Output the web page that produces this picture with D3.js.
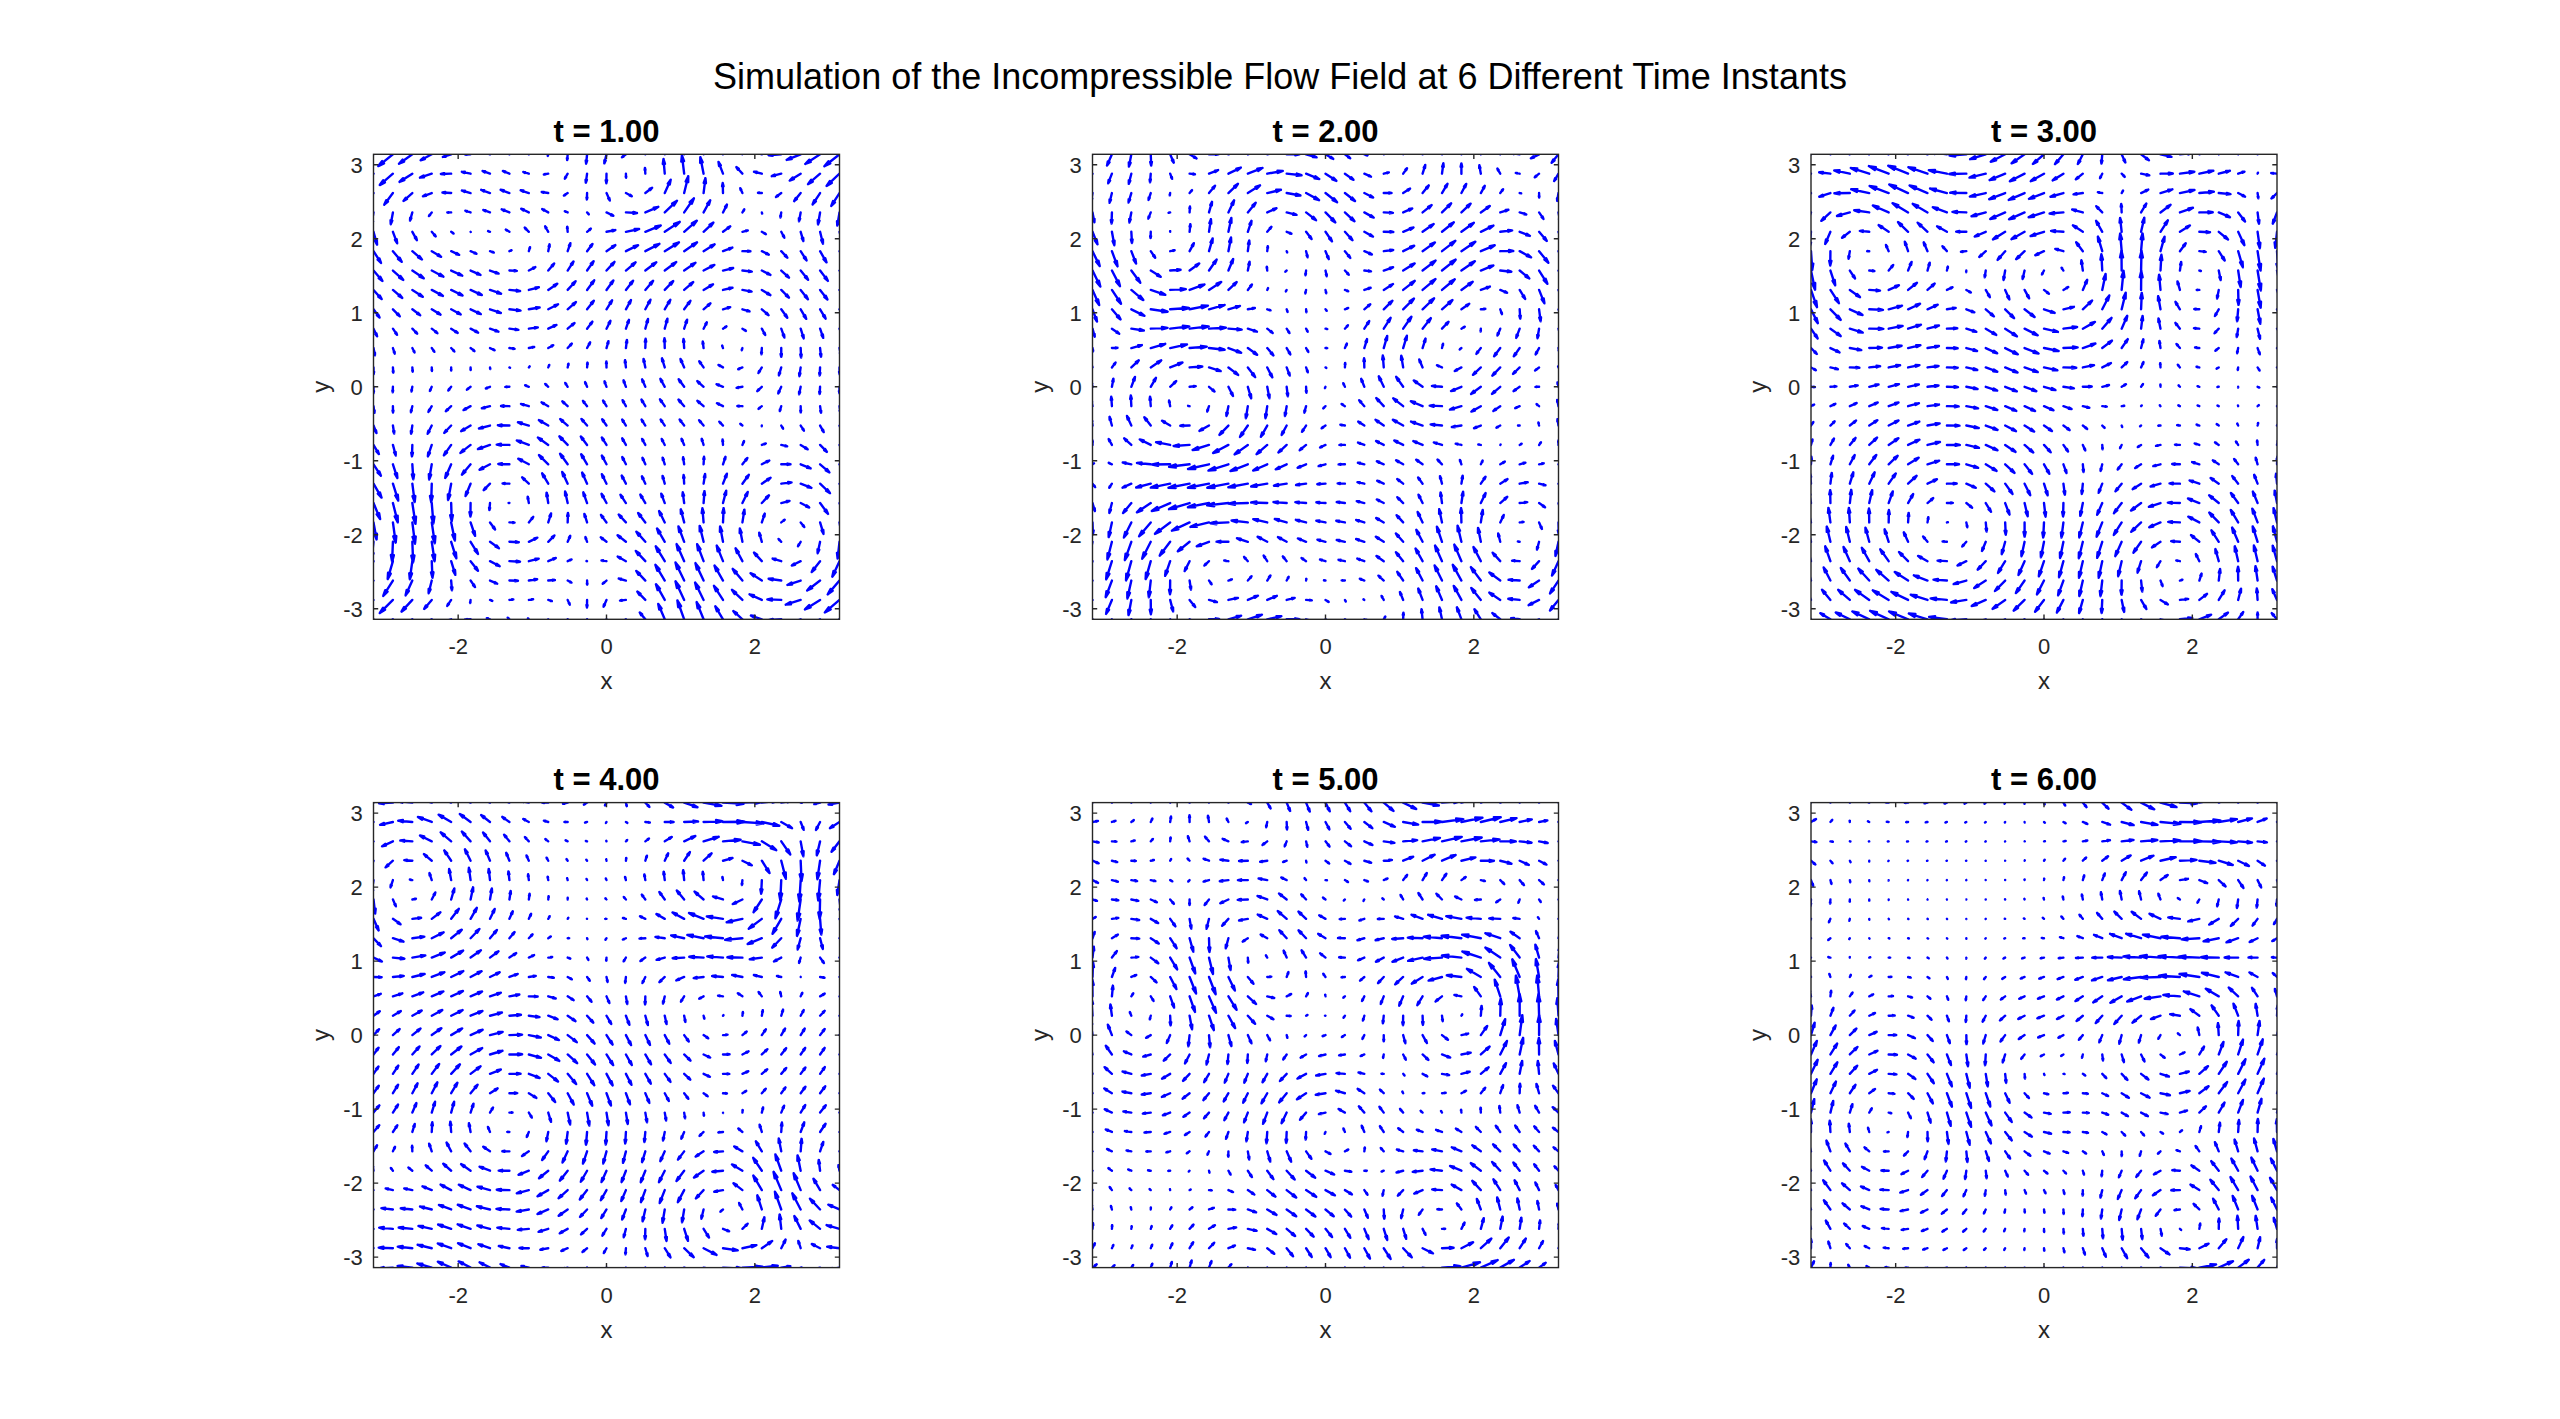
<!DOCTYPE html>
<html>
<head>
<meta charset="utf-8">
<script src="https://cdn.jsdelivr.net/npm/d3@7"></script>
<style>
body { margin: 0; background: #fff; }
text { font-family: "Liberation Sans", Arial, Helvetica, sans-serif; fill: #262626; }
</style>
</head>
<body>
<svg id="chart" width="2560" height="1419"></svg>
<script>
// figure text
var mainTitle = "Simulation of the Incompressible Flow Field at 6 Different Time Instants";
var timeLabels = ["t = 1.00", "t = 2.00", "t = 3.00", "t = 4.00", "t = 5.00", "t = 6.00"];
var xTicks = [-2, 0, 2];
var yTicks = [-3, -2, -1, 0, 1, 2, 3];
var gridN = 25;

// eddies: centre x, centre y, signed strength (+ = counter-clockwise), core radius
var vortexX = [
	[-2.5, -1.1, 0.5, -1.35, 2.5, 0.3, 1.7],
	[-1.8, -1.5, -0.6, 1.5, 2.4, -2.1, 0.6, 2.6],
	[-2.4, 0.2, -1.3, 1.8, 2.1],
	[-2.7, 1.8, 1.7, -1.3, 1.5, 2.95],
	[2.0, 1.6, 1.9, 0.0, -2.6, 0.0, -1.05, -1.1],
	[1.8, 1.9, 1.9, -2.1, -0.3]
];
var vortexY = [
	[2.35, 1.8, 2.7, -1.6, -2.0, -2.6, 0.6],
	[-0.25, -2.4, 2.2, 0.3, 1.3, 1.8, -3.1, -2.1],
	[1.8, 1.5, -1.9, -2.5, 1.6],
	[2.0, 2.1, -2.5, -1.2, 0.4, -2.0],
	[0.4, -2.6, 2.0, -1.3, 0.4, 1.8, 1.0, 3.0],
	[0.0, 1.9, -2.7, -1.2, -0.6]
];
var vortexS = [
	[0.8, 0.8, 1.0, 1.0, -1.0, 0.6, -0.7],
	[-1.0, 0.9, -0.6, -0.9, -0.8, 0.7, 0.6, -0.9],
	[1.0, 1.0, -0.9, 0.9, -0.6],
	[1.0, -1.0, 1.0, -1.0, 0.6, -0.6],
	[1.0, 1.0, -0.8, 0.8, -0.8, -0.4, 0.7, -0.6],
	[1.0, -0.9, 1.0, -0.7, 0.6]
];
var vortexR = [
	[0.72, 0.78, 0.6, 0.85, 0.85, 0.6, 0.85],
	[0.9, 0.85, 0.72, 0.72, 0.72, 0.72, 1.0, 0.75],
	[0.85, 0.85, 1.05, 0.85, 0.72],
	[0.85, 0.72, 0.72, 1.0, 0.85, 0.6],
	[0.78, 0.78, 0.72, 0.66, 1.0, 0.55, 0.65, 0.65],
	[0.85, 0.78, 0.78, 0.95, 0.72]
];

var svg = d3.select("#chart");
var PI = Math.PI;
var panelLeft = [373.5, 1092.5, 1811];
var panelTop = [154.3, 802.6];
var pw = 466, ph = 465;

svg.append("text")
	.attr("x", 1280)
	.attr("y", 88.5)
	.attr("text-anchor", "middle")
	.style("font-size", "36px")
	.style("fill", "#000")
	.text(mainTitle);

// velocity of the periodic eddy field at (x, y)
function velocity(k, x, y) {
	var u = 0, v = 0;
	for (var i = 0; i < vortexX[k].length; i++) {
		var s = vortexS[k][i], r0 = vortexR[k][i];
		for (var sx = -1; sx <= 1; sx++) {
			for (var sy = -1; sy <= 1; sy++) {
				var dx = x - (vortexX[k][i] + sx * 2 * PI);
				var dy = y - (vortexY[k][i] + sy * 2 * PI);
				var e = Math.exp(0.5 - (dx * dx + dy * dy) / (2 * r0 * r0));
				u += -s * dy / r0 * e;
				v += s * dx / r0 * e;
			}
		}
	}
	return [u, v];
}

var gridVals = d3.range(gridN).map(function(i) { return -PI + i * 2 * PI / (gridN - 1); });

timeLabels.forEach(function(label, k) {
	var col = k % 3, row = Math.floor(k / 3);
	var x0 = panelLeft[col], y0 = panelTop[row];
	var xs = d3.scaleLinear().domain([-PI, PI]).range([x0, x0 + pw]);
	var ys = d3.scaleLinear().domain([-PI, PI]).range([y0 + ph, y0]);

	var g = svg.append("g").attr("class", "panel");
	var clipId = "clip" + k;
	svg.append("clipPath").attr("id", clipId)
		.append("rect").attr("x", x0).attr("y", y0).attr("width", pw).attr("height", ph);

	// field samples
	var pts = [];
	gridVals.forEach(function(xv) {
		gridVals.forEach(function(yv) {
			var uv = velocity(k, xv, yv);
			pts.push({x: xv, y: yv, u: uv[0], v: uv[1], m: Math.sqrt(uv[0] * uv[0] + uv[1] * uv[1])});
		});
	});
	// autoscale: longest arrows about one grid step
	var lens = pts.map(function(d) { return d.m; }).sort(d3.ascending);
	var refLen = d3.quantile(lens, 0.985);
	var scale = 0.27 / refLen;
	var alpha = 0.33, beta = 0.23;

	var arrows = g.append("g").attr("clip-path", "url(#" + clipId + ")");
	arrows.selectAll("path")
		.data(pts)
		.enter().append("path")
		.attr("d", function(d) {
			var f = Math.min(scale, 0.29 / (d.m || 1));
			var u = d.u * f, v = d.v * f;
			var tx = d.x + u, ty = d.y + v;
			var h1x = tx - alpha * (u + beta * v), h1y = ty - alpha * (v - beta * u);
			var h2x = tx - alpha * (u - beta * v), h2y = ty - alpha * (v + beta * u);
			return "M" + xs(d.x) + "," + ys(d.y) + "L" + xs(tx) + "," + ys(ty) +
				"M" + xs(h1x) + "," + ys(h1y) + "L" + xs(tx) + "," + ys(ty) + "L" + xs(h2x) + "," + ys(h2y);
		})
		.attr("fill", "none")
		.attr("stroke", "#0000ff")
		.attr("stroke-width", 2.4)
		.attr("stroke-linecap", "round");

	// axes box and ticks
	var axisColor = "#262626";
	g.append("rect")
		.attr("x", x0).attr("y", y0).attr("width", pw).attr("height", ph)
		.attr("fill", "none").attr("stroke", axisColor).attr("stroke-width", 1.4);
	var tl = 4.7;
	g.selectAll("path.xt").data(xTicks).enter().append("path")
		.attr("d", function(d) {
			return "M" + xs(d) + "," + (y0 + ph) + "v" + (-tl) + "M" + xs(d) + "," + y0 + "v" + tl;
		})
		.attr("stroke", axisColor).attr("stroke-width", 1.4);
	g.selectAll("path.yt").data(yTicks).enter().append("path")
		.attr("d", function(d) {
			return "M" + x0 + "," + ys(d) + "h" + tl + "M" + (x0 + pw) + "," + ys(d) + "h" + (-tl);
		})
		.attr("stroke", axisColor).attr("stroke-width", 1.4);

	g.selectAll("text.xl").data(xTicks).enter().append("text")
		.attr("x", function(d) { return xs(d); })
		.attr("y", y0 + ph + 35)
		.attr("text-anchor", "middle")
		.style("font-size", "22px")
		.text(function(d) { return d; });
	g.selectAll("text.yl").data(yTicks).enter().append("text")
		.attr("x", x0 - 10.7)
		.attr("y", function(d) { return ys(d) + 7.8; })
		.attr("text-anchor", "end")
		.style("font-size", "22px")
		.text(function(d) { return d; });

	g.append("text")
		.attr("x", x0 + pw / 2)
		.attr("y", y0 + ph + 70)
		.attr("text-anchor", "middle")
		.style("font-size", "24px")
		.text("x");
	g.append("text")
		.attr("transform", "translate(" + (x0 - 44.7) + "," + (y0 + ph / 2) + ") rotate(-90)")
		.attr("text-anchor", "middle")
		.style("font-size", "24px")
		.text("y");

	g.append("text")
		.attr("x", x0 + pw / 2)
		.attr("y", y0 - 12.5)
		.attr("text-anchor", "middle")
		.style("font-size", "31px")
		.style("font-weight", "bold")
		.style("fill", "#000")
		.text(label);
});
</script>
</body>
</html>
